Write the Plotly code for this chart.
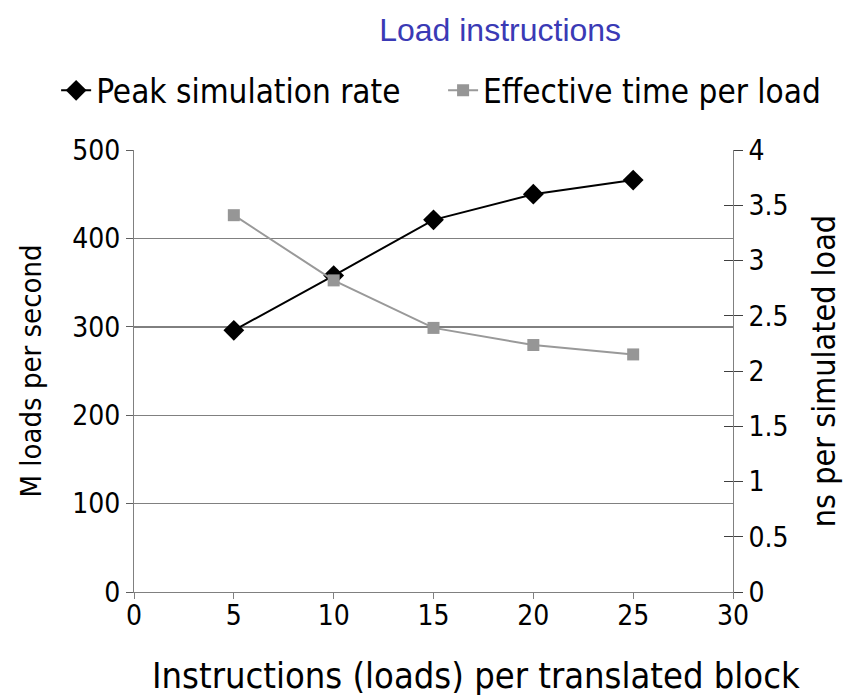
import plotly.graph_objects as go

x_vals = [5, 10, 15, 20, 25]
peak_rate = [296, 358, 421, 450, 466]
eff_time = [3.41, 2.82, 2.39, 2.235, 2.15]
x_ticks = [0, 5, 10, 15, 20, 25, 30]
left_ticks = [0, 100, 200, 300, 400, 500]
right_ticks = [0, 0.5, 1, 1.5, 2, 2.5, 3, 3.5, 4]
right_labels = ["0", "0.5", "1", "1.5", "2", "2.5", "3", "3.5", "4"]

FONT = "DejaVu Sans Condensed, DejaVu Sans"
fig = go.Figure()
fig.add_trace(go.Scatter(x=x_vals, y=peak_rate, name="Peak simulation rate",
                         mode="lines+markers", line=dict(color="black", width=2),
                         marker=dict(symbol="diamond", size=16, color="black"),
                         yaxis="y", legend="legend"))
fig.add_trace(go.Scatter(x=x_vals, y=eff_time, name="Effective time per load",
                         mode="lines+markers", line=dict(color="#999999", width=2),
                         marker=dict(symbol="square", size=12, color="#969696"),
                         yaxis="y2", legend="legend2"))
fig.add_trace(go.Scatter(x=[None], y=[None], yaxis="y3", showlegend=False, hoverinfo="skip"))

fig.add_hline(y=300, line=dict(color="black", width=1.2), layer="below")

fig.add_annotation(text="Instructions (loads) per translated block", xref="paper", yref="paper",
                   x=0.571, y=-0.19, xanchor="center", yanchor="middle", showarrow=False,
                   font=dict(family=FONT, size=36, color="black"))

leg_common = dict(orientation="h", yanchor="middle", y=1.135, xanchor="left",
                  font=dict(family=FONT, size=33), itemwidth=30,
                  bgcolor="rgba(0,0,0,0)")

fig.update_layout(
    width=852, height=699,
    margin=dict(l=134, r=119, t=150, b=107),
    paper_bgcolor="white", plot_bgcolor="white",
    font=dict(family=FONT, size=28, color="black"),
    title=dict(text="Load instructions", x=0.587, xanchor="center", y=0.958, yanchor="middle",
               font=dict(family="Liberation Sans", size=32, color="#3A3AB5")),
    showlegend=True,
    legend=dict(x=-0.13, **leg_common),
    legend2=dict(x=0.516, **leg_common),
    xaxis=dict(range=[0, 30], tickvals=x_ticks, ticks="outside",
               ticklen=6, tickcolor="#808080", showline=True, linecolor="#808080",
               showgrid=False, zeroline=False, ticklabelstandoff=-8),
    yaxis=dict(range=[0, 500], tickvals=left_ticks, ticks="outside",
               ticklen=7, tickcolor="#606060", showline=True, linecolor="#808080",
               showgrid=True, gridcolor="#808080", gridwidth=1.2, zeroline=False,
               title=dict(text="M loads per second", standoff=22, font=dict(size=29))),
    yaxis2=dict(range=[0, 4], tickvals=right_ticks, ticktext=right_labels,
                overlaying="y", side="right", anchor="x", ticks="outside", ticklen=9,
                tickcolor="#404040", showline=True, linecolor="#808080",
                showgrid=False, zeroline=False,
                title=dict(text="ns per simulated load", standoff=24, font=dict(size=32))),
    yaxis3=dict(range=[0, 4], tickvals=right_ticks,
                overlaying="y", side="right", anchor="x", ticks="inside", ticklen=9,
                tickcolor="#404040", showticklabels=False, showline=False,
                showgrid=False, zeroline=False),
)

fig.write_html("out.html")
